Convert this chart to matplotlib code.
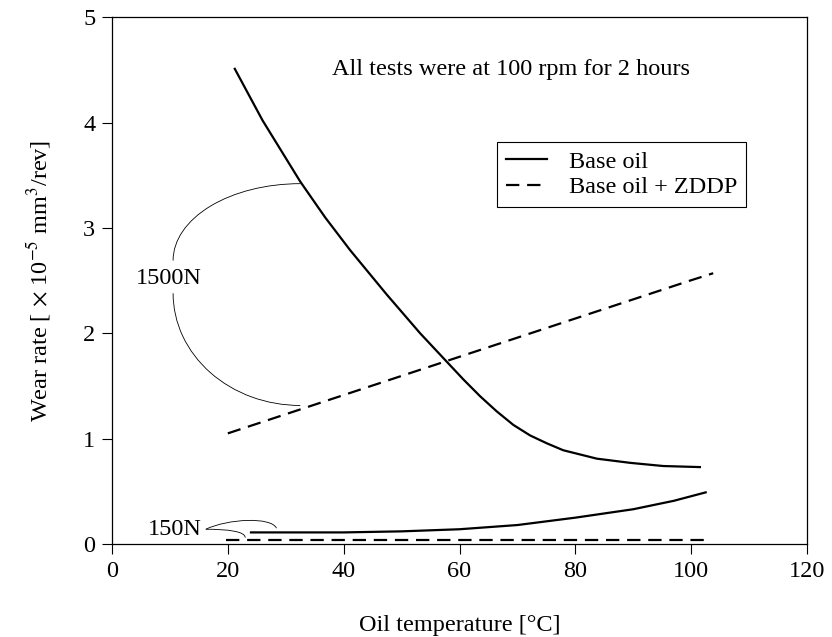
import numpy as np
import matplotlib
matplotlib.use("Agg")
import matplotlib.pyplot as plt
from matplotlib.path import Path
from matplotlib.patches import PathPatch, Arc

plt.rcParams['font.family'] = ['Liberation Serif', 'DejaVu Serif']
plt.rcParams['mathtext.fontset'] = 'stix'

# Base oil, 1500N
t_base_1500 = [21.2, 26, 32.5, 36.8, 41.1, 47.4, 53.2, 57.8, 60.7, 63.6, 66.4,
               69.3, 72.2, 75.1, 77.9, 83.7, 89.5, 95.2, 101.5]
w_base_1500 = [4.51, 4.02, 3.44, 3.10, 2.79, 2.37, 2.00, 1.73, 1.56, 1.40, 1.26,
               1.13, 1.03, 0.955, 0.89, 0.81, 0.77, 0.74, 0.73]
# Base oil + ZDDP, 1500N
t_zddp_1500 = [20, 49.7, 99.8, 103.8]
w_zddp_1500 = [1.05, 1.59, 2.50, 2.57]
# Base oil, 150N
t_base_150 = [24, 30, 40, 50, 60, 70, 80, 90, 97, 102.5]
w_base_150 = [0.11, 0.11, 0.11, 0.12, 0.14, 0.18, 0.25, 0.33, 0.41, 0.49]
# Base oil + ZDDP, 150N
t_zddp_150 = [19.7, 102.7]
w_zddp_150 = [0.035, 0.035]

xticks = [0, 20, 40, 60, 80, 100, 120]
yticks = [0, 1, 2, 3, 4, 5]

FS = 17.5

fig = plt.figure(figsize=(8.32, 6.37), dpi=100)
ax = fig.add_axes([0.1346, 0.146, 0.8354, 0.827])

dash = (6, 3.5)
ax.plot(t_base_1500, w_base_1500, color='black', lw=1.6, label='Base oil')
ax.plot(t_zddp_1500, w_zddp_1500, color='black', lw=1.6, dashes=dash, label='Base oil + ZDDP')
ax.plot(t_base_150, w_base_150, color='black', lw=1.6)
ax.plot(t_zddp_150, w_zddp_150, color='black', lw=1.6, dashes=dash)

# 1500N bracket
ax.add_patch(Arc((32.5, 2.69), 43.9, 1.46, theta1=90, theta2=180, color='black', lw=0.6))
ax.add_patch(Arc((32.5, 2.38), 43.9, 2.13, theta1=180, theta2=270, color='black', lw=0.6))
ax.text(9.8, 2.52, '1500N', fontsize=FS, ha='center', va='center',
        bbox=dict(fc='white', ec='none', pad=1))

# 150N pointers
up = Path([(16.2, 0.14), (20, 0.24), (27.5, 0.26), (28.4, 0.15)],
          [Path.MOVETO, Path.CURVE4, Path.CURVE4, Path.CURVE4])
lo = Path([(16.2, 0.14), (20, 0.14), (23, 0.12), (23, 0.06)],
          [Path.MOVETO, Path.CURVE4, Path.CURVE4, Path.CURVE4])
ax.add_patch(PathPatch(up, fc='none', ec='black', lw=0.6))
ax.add_patch(PathPatch(lo, fc='none', ec='black', lw=0.6))
ax.text(15.5, 0.14, '150N', fontsize=FS, ha='right', va='center')

ax.text(68.9, 4.5, 'All tests were at 100 rpm for 2 hours', fontsize=FS,
        ha='center', va='center')

leg = ax.legend(loc='upper left', bbox_to_anchor=(0.554, 0.763), fontsize=FS,
                fancybox=False, edgecolor='black', framealpha=1,
                handlelength=1.7, borderpad=0.35, labelspacing=0.15,
                handletextpad=0.9, borderaxespad=0)
leg.get_frame().set_linewidth(0.8)

ax.set_xlim(0, 120)
ax.set_ylim(0, 5)
ax.set_xticks(xticks)
ax.set_yticks(yticks)
ax.tick_params(direction='out', length=7, width=0.8, labelsize=FS, pad=5)
for s in ax.spines.values():
    s.set_linewidth(0.9)

ax.set_xlabel('Oil temperature [°C]', fontsize=FS, labelpad=24)
ax.set_ylabel(r'Wear rate [ $\times$ 10$^{-5}$ mm$^3$/rev]', fontsize=FS, labelpad=22)

fig.savefig('out.png', dpi=100)
